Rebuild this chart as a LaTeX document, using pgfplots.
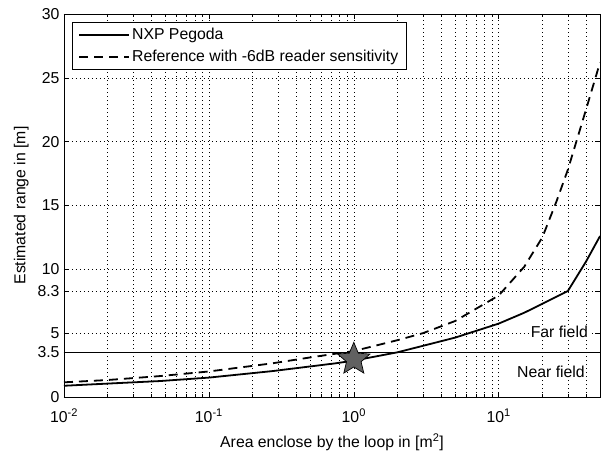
\documentclass[border=0pt]{standalone}
\usepackage{fontspec}
\setmainfont{Liberation Sans}
\usepackage{pgfplots}
\pgfplotsset{compat=1.18}

% filled five-pointed star for the marked point
\pgfdeclareplotmark{pstar}{%
  \pgfpathmoveto{\pgfpointpolar{90}{\pgfplotmarksize}}%
  \pgfpathlineto{\pgfpointpolar{126}{0.45\pgfplotmarksize}}%
  \pgfpathlineto{\pgfpointpolar{162}{\pgfplotmarksize}}%
  \pgfpathlineto{\pgfpointpolar{198}{0.45\pgfplotmarksize}}%
  \pgfpathlineto{\pgfpointpolar{234}{\pgfplotmarksize}}%
  \pgfpathlineto{\pgfpointpolar{270}{0.45\pgfplotmarksize}}%
  \pgfpathlineto{\pgfpointpolar{306}{\pgfplotmarksize}}%
  \pgfpathlineto{\pgfpointpolar{342}{0.45\pgfplotmarksize}}%
  \pgfpathlineto{\pgfpointpolar{18}{\pgfplotmarksize}}%
  \pgfpathlineto{\pgfpointpolar{54}{0.45\pgfplotmarksize}}%
  \pgfpathclose
  \pgfusepathqfillstroke
}

\begin{document}
\begin{tikzpicture}[font=\fontsize{15.8bp}{18bp}\selectfont]
\begin{axis}[
  scale only axis,
  width=536bp, height=383bp,
  xmode=log,
  xmin=0.01, xmax=50,
  ymin=0, ymax=30,
  xtick={0.01,0.1,1,10},
  xticklabels={10\textsuperscript{-2},10\textsuperscript{-1},10\textsuperscript{0},10\textsuperscript{1}},
  minor xtick={0.02,0.03,0.04,0.05,0.06,0.07,0.08,0.09,0.2,0.3,0.4,0.5,0.6,0.7,0.8,0.9,2,3,4,5,6,7,8,9,20,30,40,50},
  ytick={0,3.5,5,8.3,10,15,20,25,30},
  yticklabels={0,3.5,5,8.3,10,15,20,25,30},
  xticklabel style={yshift=-8bp},
  yticklabel style={xshift=-1bp},
  tick align=inside,
  major tick length=5bp, minor tick length=3bp,
  tick style={black, line width=0.6bp},
  axis line style={black, line width=0.8bp},
  grid=both,
  major grid style={black, line width=0.6bp, dash pattern=on 1bp off 3bp},
  minor grid style={black, line width=0.6bp, dash pattern=on 1bp off 3bp},
  xlabel={Area enclose by the loop in [m\textsuperscript{2}]},
  ylabel={Estimated range in [m]},
  xlabel style={yshift=-4bp},
  ylabel style={yshift=2bp},
  legend style={at={(0.015,0.979)}, anchor=north west,
    draw=black, line width=0.6bp, fill=white, inner xsep=6bp, inner ysep=4bp,
    row sep=5bp},
  legend cell align=left,
  legend image code/.code={\draw[#1, line width=1.8bp] (0bp,0bp) -- (50bp,0bp);},
]
\addplot[black, line width=1.8bp] coordinates {
 (0.01,0.88)(0.02,1.05)(0.046,1.25)(0.1,1.52)(0.275,2.03)(0.75,2.64)(1,2.85)
 (2,3.5)(5,4.65)(10,5.75)(15,6.6)(20,7.3)(30,8.3)(40,10.6)(50,12.6)};
\addlegendentry{NXP Pegoda}
\addplot[black, line width=1.8bp, dash pattern=on 9bp off 6bp] coordinates {
 (0.01,1.15)(0.02,1.33)(0.046,1.64)(0.1,2.0)(0.275,2.64)(0.5,3.1)(1,3.6)
 (2,4.45)(3,5.0)(5,5.95)(10,7.95)(15,10.2)(20,12.5)(25,15.3)(30,17.8)(40,22.5)(50,26.2)};
\addlegendentry{Reference with -6dB reader sensitivity\hspace{18bp}}
\addplot[black, line width=0.7bp, forget plot] coordinates {(0.01,3.5)(50,3.5)};
\addplot[only marks, mark=pstar, mark size=17bp,
  mark options={fill=black!62, draw=black, line width=0.7bp}, forget plot]
  coordinates {(1,2.95)};
\node[anchor=east, fill=white, inner sep=1bp] at (axis cs:42,5.1) {Far field};
\node[anchor=east, fill=white, inner sep=1bp] at (axis cs:40,1.96) {Near field};
\end{axis}
\pgfresetboundingbox
\useasboundingbox ([xshift=-64bp,yshift=-59bp]current axis.south west) rectangle ([xshift=4bp,yshift=14bp]current axis.north east);
\end{tikzpicture}
\end{document}
